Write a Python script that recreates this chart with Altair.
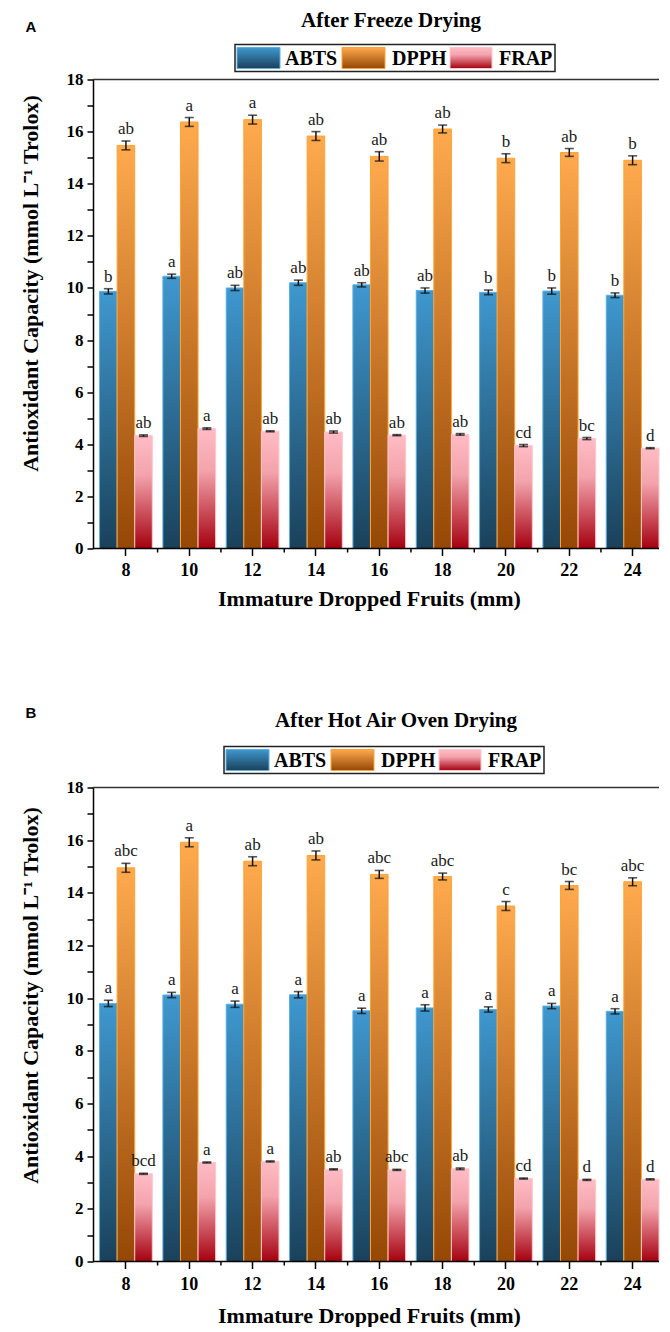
import altair as alt
import pandas as pd

SIZES = ["8", "10", "12", "14", "16", "18", "20", "22", "24"]
MINOR = [9, 11, 13, 15, 17, 19, 21, 23]
SERIES = ["ABTS", "DPPH", "FRAP"]

# Panel A: after freeze drying
A_ABTS = [9.87, 10.45, 10.0, 10.2, 10.12, 9.9, 9.83, 9.88, 9.72]
A_ABTS_ERR = [0.10, 0.08, 0.10, 0.10, 0.08, 0.10, 0.09, 0.12, 0.09]
A_ABTS_LAB = ["b", "a", "ab", "ab", "ab", "ab", "b", "b", "b"]
A_DPPH = [15.47, 16.37, 16.46, 15.83, 15.05, 16.10, 14.98, 15.20, 14.90]
A_DPPH_ERR = [0.17, 0.17, 0.17, 0.17, 0.18, 0.15, 0.17, 0.15, 0.17]
A_DPPH_LAB = ["ab", "a", "a", "ab", "ab", "ab", "b", "ab", "b"]
A_FRAP = [4.33, 4.60, 4.50, 4.47, 4.35, 4.38, 3.95, 4.22, 3.85]
A_FRAP_ERR = [0.03, 0.03, 0.02, 0.04, 0.02, 0.03, 0.04, 0.04, 0.02]
A_FRAP_LAB = ["ab", "a", "ab", "ab", "ab", "ab", "cd", "bc", "d"]

# Panel B: after hot air oven drying
B_ABTS = [9.80, 10.12, 9.77, 10.13, 9.52, 9.63, 9.57, 9.70, 9.50]
B_ABTS_ERR = [0.12, 0.10, 0.12, 0.12, 0.10, 0.12, 0.10, 0.10, 0.10]
B_ABTS_LAB = ["a", "a", "a", "a", "a", "a", "a", "a", "a"]
B_DPPH = [14.95, 15.92, 15.20, 15.42, 14.70, 14.62, 13.50, 14.28, 14.42]
B_DPPH_ERR = [0.17, 0.17, 0.17, 0.17, 0.15, 0.13, 0.17, 0.15, 0.15]
B_DPPH_LAB = ["abc", "a", "ab", "ab", "abc", "abc", "c", "bc", "abc"]
B_FRAP = [3.33, 3.76, 3.80, 3.50, 3.48, 3.52, 3.15, 3.10, 3.12]
B_FRAP_ERR = [0.02, 0.02, 0.02, 0.02, 0.02, 0.03, 0.02, 0.02, 0.02]
B_FRAP_LAB = ["bcd", "a", "a", "ab", "abc", "ab", "cd", "d", "d"]

Y_TITLE = "Antioxidant Capacity (mmol L\u207b\u00b9 Trolox)"
X_TITLE = "Immature Dropped Fruits (mm)"

SERIF = "Liberation Serif"
W = 566
P_IN = 0.167
P_OUT = 0.0517
STEP = W / (len(SIZES) - P_IN + 2 * P_OUT)
FIRST_C = 2 * P_OUT * STEP + STEP * (1 - P_IN) / 2
LAST_C = FIRST_C + (len(SIZES) - 1) * STEP

GRAD = {
    "ABTS": alt.LinearGradient(gradient="linear", x1=0, x2=0, y1=0, y2=1,
                               stops=[alt.GradientStop(color="#3f98cf", offset=0),
                                      alt.GradientStop(color="#1a415a", offset=1)]),
    "DPPH": alt.LinearGradient(gradient="linear", x1=0, x2=0, y1=0, y2=1,
                               stops=[alt.GradientStop(color="#ffaa4e", offset=0),
                                      alt.GradientStop(color="#954705", offset=1)]),
    "FRAP": alt.LinearGradient(gradient="linear", x1=0, x2=0, y1=0, y2=1,
                               stops=[alt.GradientStop(color="#ffbcc4", offset=0),
                                      alt.GradientStop(color="#f3a3ac", offset=0.35),
                                      alt.GradientStop(color="#a5000f", offset=1)]),
}
STROKE = {"ABTS": "#5bb0e4", "DPPH": "#ffa333", "FRAP": "#ffc6cd"}


def long_df(abts, abts_e, abts_l, dpph, dpph_e, dpph_l, frap, frap_e, frap_l):
    rows = []
    for name, vals, errs, labs in [("ABTS", abts, abts_e, abts_l),
                                   ("DPPH", dpph, dpph_e, dpph_l),
                                   ("FRAP", frap, frap_e, frap_l)]:
        for s, v, e, l in zip(SIZES, vals, errs, labs):
            rows.append(dict(size=s, series=name, value=v, lo=v - e, hi=v + e, letter=l))
    return pd.DataFrame(rows)


def xenc(label_pad, title_y):
    return alt.X("size:N", sort=SIZES,
                 scale=alt.Scale(paddingInner=P_IN, paddingOuter=P_OUT, align=1),
                 axis=alt.Axis(title=X_TITLE, labelAngle=0,
                               labelFont=SERIF, labelFontWeight="bold", labelFontSize=18,
                               labelColor="black", labelPadding=label_pad,
                               tickSize=7, tickColor="black", tickWidth=1.5,
                               domain=False,
                               titleFont=SERIF, titleFontSize=22, titleFontWeight="bold",
                               titleColor="black", titleX=276, titleY=title_y,
                               titleBaseline="middle", grid=False))


def yenc(field):
    return alt.Y(f"{field}:Q", scale=alt.Scale(domain=[0, 18], nice=False),
                 axis=alt.Axis(title=None,
                               values=list(range(19)),
                               labelExpr="datum.value % 2 === 0 ? datum.label : ''",
                               labelFont=SERIF, labelFontWeight="bold", labelFontSize=17,
                               labelColor="black", labelPadding=4,
                               tickSize=6, tickColor="black", tickWidth=1.5,
                               domainColor="black", domainWidth=1.5,
                               grid=False))


XOFF = alt.XOffset("series:N", sort=SERIES, scale=alt.Scale(paddingInner=0, paddingOuter=0))


def panel(df, h, letter, title, title_pos, letter_pos, legend_x0, legend_y0,
          label_pad, xtitle_y, ytitle_y):
    X = xenc(label_pad, xtitle_y)
    layers = []
    for s in SERIES:
        layers.append(
            alt.Chart(df).transform_filter(alt.datum.series == s)
            .mark_bar(fill=GRAD[s], stroke=STROKE[s], strokeWidth=1)
            .encode(x=X, xOffset=XOFF, y=yenc("value"))
        )
    err = alt.Chart(df).mark_rule(color="#111", strokeWidth=1.5).encode(
        x=X, xOffset=XOFF, y=yenc("lo"), y2="hi:Q")
    cap_hi = alt.Chart(df).mark_tick(color="#111", size=9, thickness=1.6).encode(
        x=X, xOffset=XOFF, y=yenc("hi"))
    cap_lo = alt.Chart(df).mark_tick(color="#111", size=9, thickness=1.6).encode(
        x=X, xOffset=XOFF, y=yenc("lo"))
    txt = alt.Chart(df).mark_text(font=SERIF, fontSize=17, color="#1a1a1a",
                                  baseline="bottom", dy=-3).encode(
        x=X, xOffset=XOFF, y=yenc("hi"), text="letter:N")
    main = alt.layer(*layers, err, cap_hi, cap_lo, txt)

    one = pd.DataFrame({"k": [0]})
    minor = alt.Chart(pd.DataFrame({"m": MINOR})).mark_rule(color="black", strokeWidth=1.5).encode(
        x=alt.X("m:Q", scale=alt.Scale(domain=[8, 24], range=[FIRST_C, LAST_C], nice=False,
                                       zero=False), axis=None),
        y=alt.value(h), y2=alt.value(h + 4))

    deco = []
    deco.append(alt.Chart(one).mark_rule(color="black", strokeWidth=1.5)
                .encode(x=alt.value(0), x2=alt.value(W), y=alt.value(h)))
    deco.append(alt.Chart(one).mark_rule(color="#333", strokeWidth=1.5)
                .encode(x=alt.value(0), x2=alt.value(W), y=alt.value(0)))
    deco.append(alt.Chart(one).mark_text(text=Y_TITLE, font=SERIF, fontSize=22,
                                         fontWeight="bold", color="black", angle=270,
                                         align="center", baseline="middle")
                .encode(x=alt.value(-62), y=alt.value(ytitle_y)))
    deco.append(alt.Chart(one).mark_text(text=title, font=SERIF, fontSize=21, fontWeight="bold",
                                         color="black", align="center", baseline="middle")
                .encode(x=alt.value(title_pos[0]), y=alt.value(title_pos[1])))
    deco.append(alt.Chart(one).mark_text(text=letter, font="Liberation Sans", fontSize=15,
                                         fontWeight="bold", color="black", align="center",
                                         baseline="middle")
                .encode(x=alt.value(letter_pos[0]), y=alt.value(letter_pos[1])))
    lh = 27
    deco.append(alt.Chart(one).mark_rect(fill="white", stroke="#222", strokeWidth=1.5)
                .encode(x=alt.value(legend_x0), x2=alt.value(legend_x0 + 320),
                        y=alt.value(legend_y0), y2=alt.value(legend_y0 + lh)))
    sw = [(2, 45, 50), (107, 150, 157), (215, 257, 264)]
    for s, (a, b, t) in zip(SERIES, sw):
        deco.append(alt.Chart(one).mark_rect(fill=GRAD[s], stroke=STROKE[s], strokeWidth=1)
                    .encode(x=alt.value(legend_x0 + a), x2=alt.value(legend_x0 + b),
                            y=alt.value(legend_y0 + 3), y2=alt.value(legend_y0 + lh - 3)))
        deco.append(alt.Chart(one).mark_text(text=s, font=SERIF, fontSize=20, fontWeight="bold",
                                             color="black", align="left", baseline="middle")
                    .encode(x=alt.value(legend_x0 + t), y=alt.value(legend_y0 + lh / 2 + 1)))

    return alt.layer(main, minor, *deco).resolve_scale(x="independent").properties(
        width=W, height=h)


dfA = long_df(A_ABTS, A_ABTS_ERR, A_ABTS_LAB, A_DPPH, A_DPPH_ERR, A_DPPH_LAB,
              A_FRAP, A_FRAP_ERR, A_FRAP_LAB)
dfB = long_df(B_ABTS, B_ABTS_ERR, B_ABTS_LAB, B_DPPH, B_DPPH_ERR, B_DPPH_LAB,
              B_FRAP, B_FRAP_ERR, B_FRAP_LAB)

pA = panel(dfA, 469, "A", "After Freeze Drying", (298, -59), (-62, -53), 142, -35,
           6, 50, 204)
pB = panel(dfB, 474, "B", "After Hot Air Oven Drying", (303, -67), (-62, -75), 131, -41,
           7, 54, 208)

chart = alt.vconcat(pA, pB, spacing=96).properties(
    padding={"left": 11, "top": 1.5, "right": 0, "bottom": 0}
).configure_view(stroke="transparent", strokeWidth=0)

chart.save("out.html", embed_options={"renderer": "svg", "actions": False})
